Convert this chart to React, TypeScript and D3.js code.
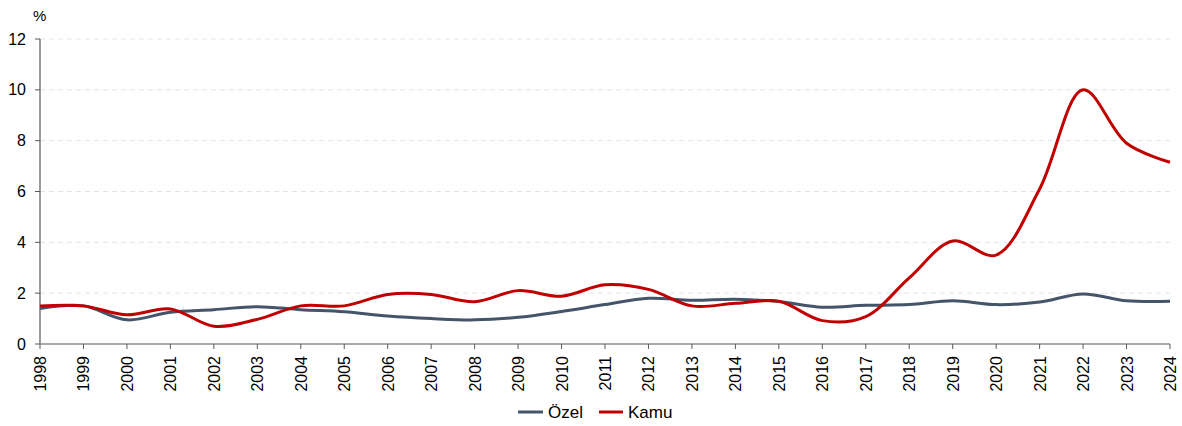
import React from "react";
import * as d3 from "d3";

const years = ["1998","1999","2000","2001","2002","2003","2004","2005","2006","2007","2008","2009","2010","2011","2012","2013","2014","2015","2016","2017","2018","2019","2020","2021","2022","2023","2024"];
const ozel = [1.4,1.5,0.95,1.25,1.35,1.47,1.35,1.27,1.1,1.0,0.95,1.05,1.28,1.55,1.8,1.72,1.76,1.67,1.45,1.52,1.55,1.7,1.55,1.65,1.97,1.7,1.68];
const kamu = [1.5,1.5,1.15,1.38,0.7,0.97,1.5,1.5,1.95,1.95,1.66,2.1,1.88,2.33,2.15,1.5,1.6,1.68,0.92,1.08,2.6,4.05,3.5,6.1,10.0,7.9,7.15];
const yTicks = [0,2,4,6,8,10,12];
const seriesNames = ["Özel","Kamu"];
const colors = ["#44546A","#C00000"];

export default function App() {
  const W = 1182, H = 426;
  const left = 40, right = 1170, top = 39, bottom = 344;
  const x = d3.scalePoint<string>().domain(years).range([left, right]);
  const y = d3.scaleLinear().domain([0, 12]).range([bottom, top]);
  const line = d3.line<number>().x((_, i) => x(years[i]) as number).y(d => y(d)).curve(d3.curveCatmullRom.alpha(0.5));
  const font = "Liberation Sans, Arial, sans-serif";
  return (
    <svg width={W} height={H} style={{ position: "absolute", left: 0, top: 0 }} fontFamily={font}>
      <rect width={W} height={H} fill="#fff" />
      {yTicks.filter(t => t > 0).map(t => (
        <line key={t} x1={left} x2={right} y1={y(t)} y2={y(t)} stroke="#dfe5ee" strokeWidth={1} strokeDasharray="5,4" />
      ))}
      <line x1={left} x2={left} y1={top} y2={bottom} stroke="#595959" strokeWidth={1.2} />
      <line x1={left} x2={right} y1={bottom} y2={bottom} stroke="#8c8c8c" strokeWidth={1.5} />
      {yTicks.map(t => (
        <g key={t}>
          <line x1={left - 5} x2={left} y1={y(t)} y2={y(t)} stroke="#595959" />
          <text x={left - 14} y={y(t)} dy="0.35em" textAnchor="end" fontSize={16} fill="#000">{t}</text>
        </g>
      ))}
      <text x={33} y={21} fontSize={15} fill="#000">%</text>
      {years.map(yr => (
        <g key={yr}>
          <line x1={x(yr)} x2={x(yr)} y1={bottom} y2={bottom + 5} stroke="#595959" />
          <text transform={`translate(${(x(yr) as number) + 6},${bottom + 12}) rotate(-90)`} textAnchor="end" fontSize={16} fill="#000">{yr}</text>
        </g>
      ))}
      <path d={line(ozel) || ""} fill="none" stroke={colors[0]} strokeWidth={3} />
      <path d={line(kamu) || ""} fill="none" stroke={colors[1]} strokeWidth={3} />
      <g>
        <line x1={518} x2={543} y1={412} y2={412} stroke={colors[0]} strokeWidth={3} />
        <text x={548} y={412} dy="0.35em" fontSize={17}>{seriesNames[0]}</text>
        <line x1={599} x2={623} y1={412} y2={412} stroke={colors[1]} strokeWidth={3} />
        <text x={628} y={412} dy="0.35em" fontSize={17}>{seriesNames[1]}</text>
      </g>
    </svg>
  );
}
